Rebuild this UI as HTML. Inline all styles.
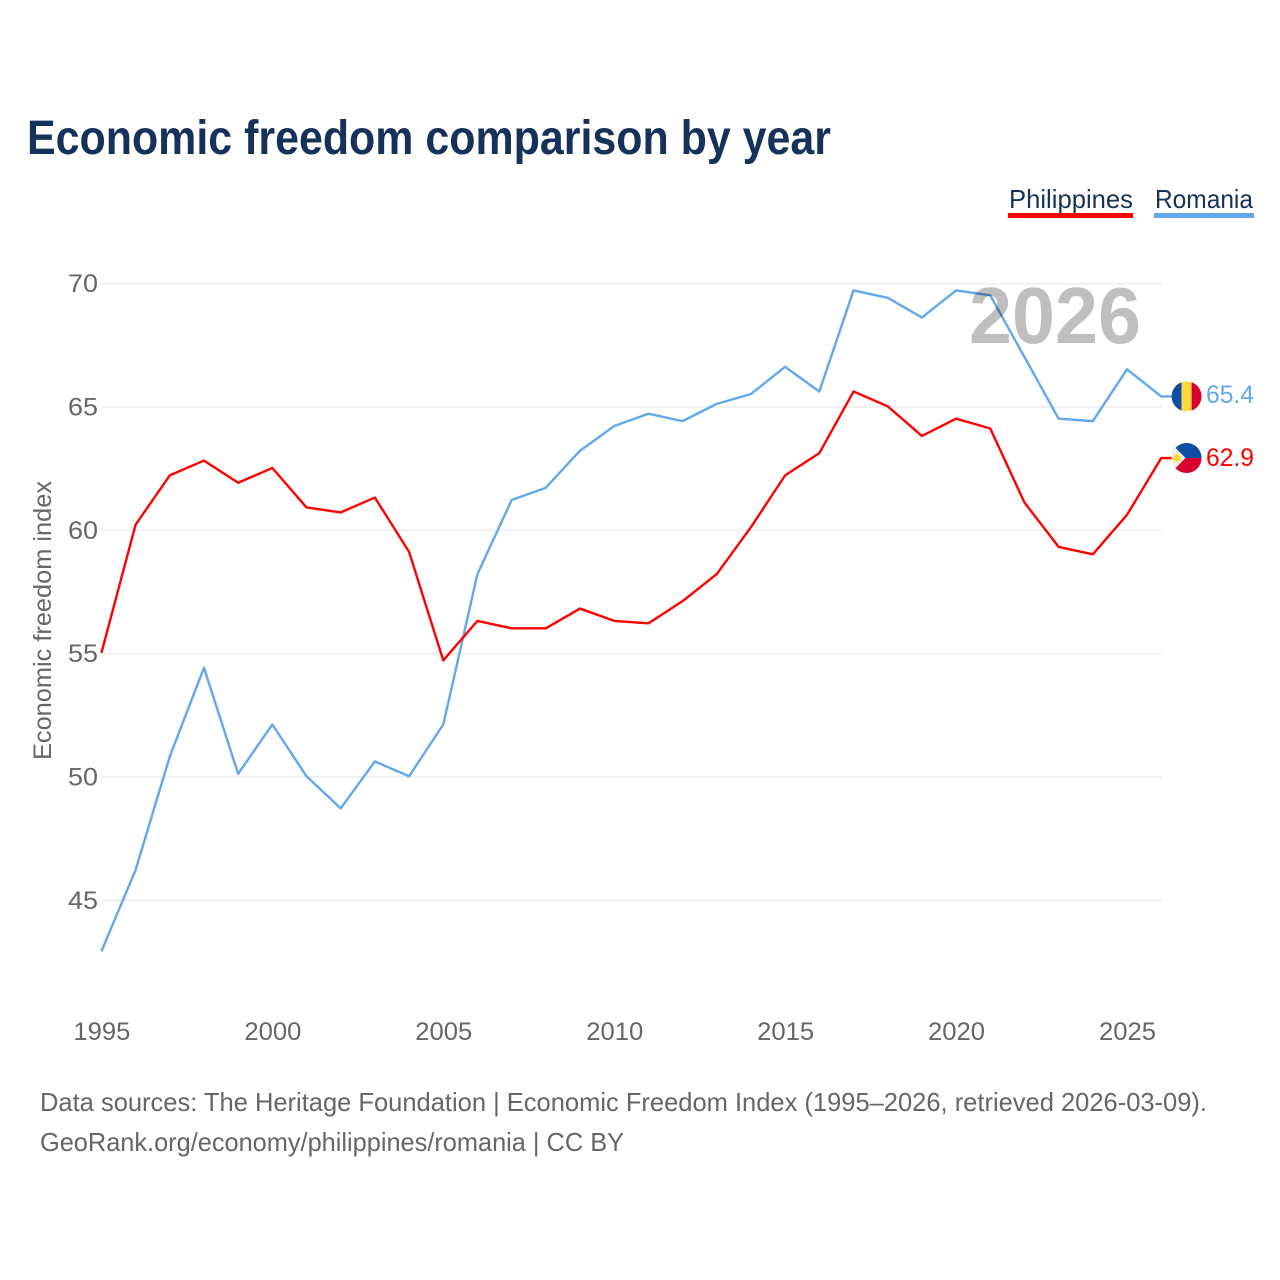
<!DOCTYPE html>
<html lang="en">
<head>
<meta charset="utf-8">
<title>Economic freedom comparison by year</title>
<style>
html,body{margin:0;padding:0;background:#fff;}
body{width:1280px;height:1280px;overflow:hidden;}
svg{display:block;font-family:"Liberation Sans",sans-serif;}
.tick{font-size:25px;fill:#666;}
.src{font-size:26px;fill:#666;}
.leg{font-size:26px;fill:#16325a;}
.line{fill:none;stroke-width:2.4;stroke-linejoin:round;}
</style>
</head>
<body>
<svg id="chart" xmlns="http://www.w3.org/2000/svg" width="1280" height="1280" viewBox="0 0 1280 1280">
  <defs>
    <clipPath id="clip-ro"><circle cx="0" cy="0" r="15"/></clipPath>
    <clipPath id="clip-ph"><circle cx="0" cy="0" r="15"/></clipPath>
  </defs>
  <text x="27" y="154" font-size="48" font-weight="700" fill="#16325a" textLength="804" lengthAdjust="spacingAndGlyphs">Economic freedom comparison by year</text>

  <g>
    <text class="leg" x="1009" y="208" textLength="124" lengthAdjust="spacingAndGlyphs">Philippines</text>
    <rect x="1008" y="213" width="125" height="5" fill="#ff0000"/>
  </g>
  <g>
    <text class="leg" x="1155" y="208" textLength="98" lengthAdjust="spacingAndGlyphs">Romania</text>
    <rect x="1154" y="213" width="100" height="5" fill="#62a8ec"/>
  </g>

  <g id="grid"></g>
  <g id="yticks"></g>
  <g id="xticks"></g>
  <text class="tick" transform="translate(51,620.5) rotate(-90)" text-anchor="middle" textLength="279" lengthAdjust="spacingAndGlyphs">Economic freedom index</text>

  <g id="series" transform="translate(0,-0.7)"></g>

  <text x="969" y="343" font-size="80" font-weight="700" fill="#bfbfbf" style="mix-blend-mode:multiply" textLength="172" lengthAdjust="spacingAndGlyphs">2026</text>

  <g id="flag-ro">
    <g clip-path="url(#clip-ro)">
      <rect x="-15" y="-15" width="10" height="30" fill="#0b4ea2"/>
      <rect x="-5" y="-15" width="10" height="30" fill="#ffd83d"/>
      <rect x="5" y="-15" width="10" height="30" fill="#d7002f"/>
    </g>
  </g>
  <g id="flag-ph">
    <g clip-path="url(#clip-ph)">
      <rect x="-15" y="-15" width="30" height="15" fill="#0b4ea2"/>
      <rect x="-15" y="0" width="30" height="15" fill="#d7002f"/>
      <polygon points="-16,-15 -1,0 -16,15" fill="#f7f3ea"/>
      <circle cx="-10" cy="0" r="4.4" fill="none" stroke="#fde58a" stroke-width="2" stroke-dasharray="1.4 1.4"/>
      <circle cx="-10" cy="0" r="3.4" fill="#fdd835"/>
    </g>
  </g>
  <text id="value-ro" x="1206" font-size="25" fill="#62a8ec" textLength="48" lengthAdjust="spacingAndGlyphs"></text>
  <text id="value-ph" x="1206" font-size="25" fill="#ff0000" textLength="48" lengthAdjust="spacingAndGlyphs"></text>

  <text class="src" x="40" y="1111" textLength="1167" lengthAdjust="spacingAndGlyphs">Data sources: The Heritage Foundation | Economic Freedom Index (1995–2026, retrieved 2026-03-09).</text>
  <text class="src" x="40" y="1151" textLength="584" lengthAdjust="spacingAndGlyphs">GeoRank.org/economy/philippines/romania | CC BY</text>
</svg>
<script>
const years = [1995,1996,1997,1998,1999,2000,2001,2002,2003,2004,2005,2006,2007,2008,2009,2010,2011,2012,2013,2014,2015,2016,2017,2018,2019,2020,2021,2022,2023,2024,2025,2026];
const philippines = [55.0,60.2,62.2,62.8,61.9,62.5,60.9,60.7,61.3,59.1,54.7,56.3,56.0,56.0,56.8,56.3,56.2,57.1,58.2,60.1,62.2,63.1,65.6,65.0,63.8,64.5,64.1,61.1,59.3,59.0,60.6,62.9];
const romania = [42.9,46.2,50.8,54.4,50.1,52.1,50.0,48.7,50.6,50.0,52.1,58.2,61.2,61.7,63.2,64.2,64.7,64.4,65.1,65.5,66.6,65.6,69.7,69.4,68.6,69.7,69.5,67.0,64.5,64.4,66.5,65.4];
const yTickLabels = [45,50,55,60,65,70];
const xTickLabels = [1995,2000,2005,2010,2015,2020,2025];

const NS = 'http://www.w3.org/2000/svg';
function xScale(year){ return 101.4 + (year - 1995) * (1161.2 - 101.4) / 31; }
function yScale(value){ return 900.3 - (value - 45) * (900.3 - 283.7) / 25; }
function make(tag, parentId){
  const el = document.createElementNS(NS, tag);
  document.getElementById(parentId).appendChild(el);
  return el;
}

yTickLabels.forEach(function(v){
  const line = make('rect', 'grid');
  
  
  line.setAttribute('x', 102);
  line.setAttribute('y', yScale(v) - 0.75);
  line.setAttribute('width', 1060);
  line.setAttribute('height', 1.5);
  line.setAttribute('fill', '#ececec');

  const label = make('text', 'yticks');
  
  
  label.setAttribute('class', 'tick');
  label.setAttribute('x', 68);
  label.setAttribute('y', yScale(v) + 8.5);
  label.setAttribute('textLength', 30);
  label.setAttribute('lengthAdjust', 'spacingAndGlyphs');
  label.textContent = v;
});

xTickLabels.forEach(function(y){
  const label = make('text', 'xticks');
  
  
  label.setAttribute('class', 'tick');
  label.setAttribute('x', xScale(y) - 28);
  label.setAttribute('y', 1040);
  label.setAttribute('textLength', 57);
  label.setAttribute('lengthAdjust', 'spacingAndGlyphs');
  label.textContent = y;
});

const flagOffset = 25.4;
function linePath(values){
  const pts = values.map(function(v, i){
    return (i ? 'L' : 'M') + xScale(years[i]).toFixed(2) + ' ' + yScale(v).toFixed(2);
  });
  const last = values[values.length - 1];
  pts.push('L' + (xScale(years[years.length - 1]) + 12).toFixed(2) + ' ' + yScale(last).toFixed(2));
  return pts.join(' ');
}

const lineRo = make('path', 'series');


lineRo.setAttribute('class', 'line');
lineRo.setAttribute('stroke', '#62a8ec');
lineRo.setAttribute('d', linePath(romania));

const linePh = make('path', 'series');


linePh.setAttribute('class', 'line');
linePh.setAttribute('stroke', '#ff0000');
linePh.setAttribute('d', linePath(philippines));

const lastRo = romania[romania.length - 1];
const lastPh = philippines[philippines.length - 1];
const endX = xScale(years[years.length - 1]) + flagOffset;
document.getElementById('flag-ro').setAttribute('transform', 'translate(' + endX + ',' + (yScale(lastRo) - 0.8) + ')');
document.getElementById('flag-ph').setAttribute('transform', 'translate(' + endX + ',' + (yScale(lastPh) - 0.8) + ')');
const valueRo = document.getElementById('value-ro');
valueRo.setAttribute('y', yScale(lastRo) + 6);
valueRo.textContent = lastRo.toFixed(1);
const valuePh = document.getElementById('value-ph');
valuePh.setAttribute('y', yScale(lastPh) + 7);
valuePh.textContent = lastPh.toFixed(1);
</script>
</body>
</html>
